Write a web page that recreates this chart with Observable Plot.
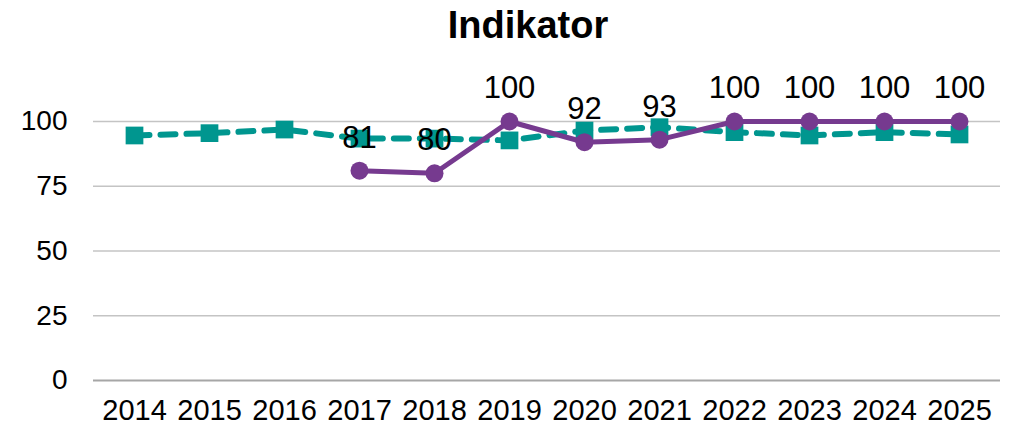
<!DOCTYPE html>
<html>
<head>
<meta charset="utf-8">
<script src="https://cdn.jsdelivr.net/npm/d3@7"></script>
<script src="https://cdn.jsdelivr.net/npm/@observablehq/plot@0.6"></script>
<style>
  html, body { margin: 0; padding: 0; background: #fff; }
  #title { height: 50px; line-height: 50px; text-align: center; font-family: "Liberation Sans", Arial, sans-serif; font-weight: bold; font-size: 38px; color: #000; padding-left: 42px; }
  svg { display: block; }
</style>
</head>
<body>
<div id="title">Indikator</div>
<div id="chart"></div>
<script>
const years = ["2014","2015","2016","2017","2018","2019","2020","2021","2022","2023","2024","2025"];
const tealValues = [94.6, 95.5, 96.9, 93.4, 93.4, 92.7, 96.5, 97.8, 95.9, 94.6, 95.9, 95.0];
const purpleValues = [null, null, null, 81, 80, 100, 92, 93, 100, 100, 100, 100];
const yTicks = [0, 25, 50, 75, 100];

const teal = years.map((y, i) => ({year: y, value: tealValues[i]}));
const purple = years.map((y, i) => ({year: y, value: purpleValues[i]})).filter(d => d.value != null);

const tealColor = "#00968f";
const purpleColor = "#763a8f";

const chart = Plot.plot({
  width: 1014,
  height: 382,
  marginLeft: 93,
  marginRight: 14,
  marginTop: 71,
  marginBottom: 52,
  style: {fontFamily: "'Liberation Sans', Arial, sans-serif", fontSize: "28px", color: "#000", background: "#fff"},
  x: {type: "point", domain: years, padding: 0.5, label: null},
  y: {domain: [0, 100], label: null},
  marks: [
    Plot.ruleY(yTicks.filter(t => t > 0), {stroke: "#c4c4c4", strokeWidth: 1.5}),
    Plot.ruleY([0], {stroke: "#a6a6a6", strokeWidth: 2}),
    Plot.axisY({ticks: yTicks, tickSize: 0, tickPadding: 26, label: null, fontSize: 28, fill: "#000"}),
    Plot.axisX({tickSize: 0, tickPadding: 19, label: null, fontSize: 29, fill: "#000"}),
    Plot.line(teal, {x: "year", y: "value", stroke: tealColor, strokeWidth: 6, strokeDasharray: "15,11", strokeLinecap: "round"}),
    Plot.dot(teal, {x: "year", y: "value", symbol: "square", r: 10, fill: tealColor}),
    Plot.line(purple, {x: "year", y: "value", stroke: purpleColor, strokeWidth: 5}),
    Plot.dot(purple, {x: "year", y: "value", r: 9, fill: purpleColor}),
    Plot.text(purple, {x: "year", y: "value", text: d => String(d.value), dy: -33, fontSize: 31, fill: "#000"})
  ]
});
document.getElementById("chart").appendChild(chart);
</script>
</body>
</html>
